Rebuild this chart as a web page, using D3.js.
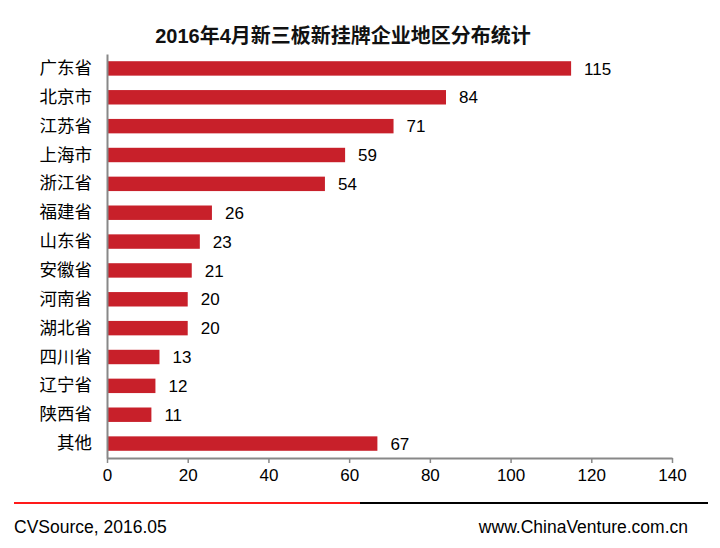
<!DOCTYPE html>
<html>
<head>
<meta charset="utf-8">
<script src="https://d3js.org/d3.v7.min.js"></script>
<style>
body { margin:0; background:#fff; }
text { font-family: "Liberation Sans", Arial, "Noto Sans CJK SC", sans-serif; }
</style>
</head>
<body>
<svg id="chart" width="720" height="548"></svg>
<script>
var regions = ["广东省","北京市","江苏省","上海市","浙江省","福建省","山东省","安徽省","河南省","湖北省","四川省","辽宁省","陕西省","其他"];
var counts = [115, 84, 71, 59, 54, 26, 23, 21, 20, 20, 13, 12, 11, 67];
var xTicks = [0, 20, 40, 60, 80, 100, 120, 140];

var svg = d3.select("#chart"),
    margin = {top: 54, right: 48, bottom: 90, left: 107},
    width = +svg.attr("width") - margin.left - margin.right,
    height = +svg.attr("height") - margin.top - margin.bottom;

var x = d3.scaleLinear().domain([0, 140]).range([0, width]);
var y = d3.scaleBand().domain(regions).range([0, height]).paddingInner(0.5).paddingOuter(0.25);

var g = svg.append("g").attr("transform", "translate(" + margin.left + "," + margin.top + ")");

svg.append("text")
    .attr("x", 343).attr("y", 43)
    .attr("text-anchor", "middle")
    .attr("font-size", 20).attr("font-weight", "bold")
    .attr("fill", "#111")
    .text("2016年4月新三板新挂牌企业地区分布统计");

g.selectAll(".bar")
  .data(counts)
  .enter().append("rect")
    .attr("class", "bar")
    .attr("fill", "#c8202a")
    .attr("x", 1)
    .attr("y", function(d, i) { return y(regions[i]); })
    .attr("width", function(d) { return x(d) - 1; })
    .attr("height", y.bandwidth());

g.selectAll(".val")
  .data(counts)
  .enter().append("text")
    .attr("x", function(d) { return x(d) + 13; })
    .attr("y", function(d, i) { return y(regions[i]) + y.bandwidth() / 2; })
    .attr("dy", "0.36em")
    .attr("font-size", 17)
    .attr("fill", "#000")
    .text(function(d) { return d; });

var xAxis = g.append("g")
    .attr("transform", "translate(0," + height + ")")
    .call(d3.axisBottom(x).tickValues(xTicks).tickSize(5).tickPadding(6).tickSizeOuter(0));
xAxis.select(".domain").attr("stroke", "#888").attr("stroke-width", 2);
xAxis.selectAll(".tick line").attr("stroke", "#888").attr("stroke-width", 1.5);
xAxis.selectAll(".tick text").attr("font-size", 17).attr("fill", "#000")
    .style("font-family", "'Liberation Sans', Arial, sans-serif");

var yAxis = g.append("g")
    .call(d3.axisLeft(y).tickSize(0).tickPadding(15));
yAxis.select(".domain").attr("stroke", "#888").attr("stroke-width", 2);
yAxis.selectAll(".tick text").attr("font-size", 17.5).attr("fill", "#000")
    .style("font-family", "'Noto Sans CJK SC', sans-serif");

// footer rule
svg.append("line").attr("x1", 14).attr("x2", 360).attr("y1", 503).attr("y2", 503)
    .attr("stroke", "#ff1a1a").attr("stroke-width", 2);
svg.append("line").attr("x1", 360).attr("x2", 708).attr("y1", 503).attr("y2", 503)
    .attr("stroke", "#000").attr("stroke-width", 2);

svg.append("text").attr("x", 14).attr("y", 533).attr("font-size", 17.5).attr("fill", "#000")
    .text("CVSource, 2016.05");
svg.append("text").attr("x", 688).attr("y", 533).attr("text-anchor", "end").attr("font-size", 17.5).attr("fill", "#000")
    .text("www.ChinaVenture.com.cn");
</script>
</body>
</html>
